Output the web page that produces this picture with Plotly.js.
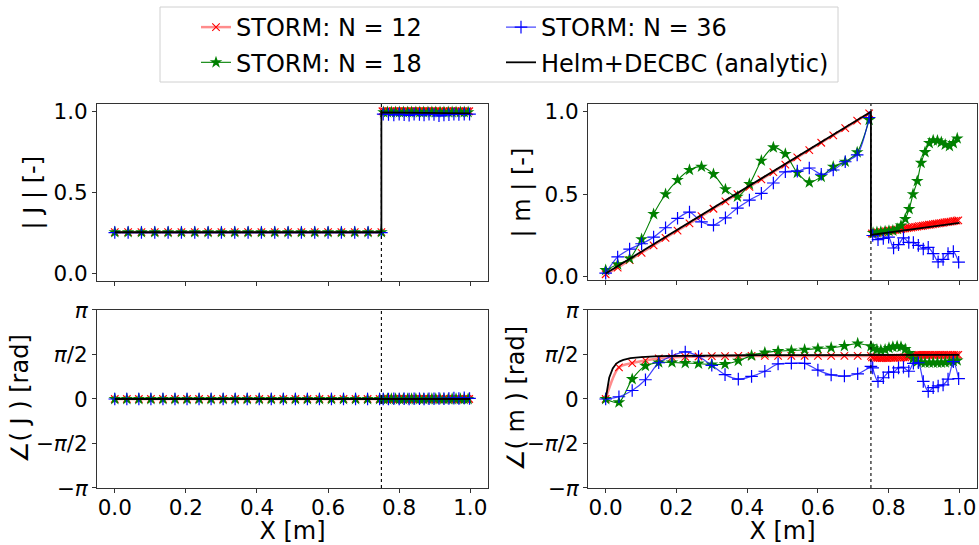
<!DOCTYPE html>
<html><head><meta charset="utf-8">
<script src="https://cdn.plot.ly/plotly-3.0.1.min.js"></script>
<style>html,body{margin:0;padding:0;background:#fff}#plot{width:979px;height:545px}</style>
</head><body><div id="plot"></div>
<script>
// ---------- x grids ----------
const xGridA = [0, 0.0375, 0.075, 0.1125, 0.15, 0.1875, 0.225, 0.2625, 0.3, 0.3375, 0.375, 0.4125, 0.45, 0.4875, 0.525, 0.5625, 0.6, 0.6375, 0.675, 0.7125, 0.75];
const xGridB = [0, 0.0339, 0.0677, 0.1016, 0.1355, 0.1693, 0.2032, 0.2370, 0.2709, 0.3048, 0.3386, 0.3725, 0.4064, 0.4402, 0.4741, 0.5080, 0.5418, 0.5757, 0.6095, 0.6434, 0.6773, 0.7111, 0.745];
const xRight12 = [0.753, 0.758, 0.764, 0.769, 0.775, 0.781, 0.786, 0.792, 0.797, 0.803, 0.808, 0.814, 0.819, 0.825, 0.831, 0.836, 0.842, 0.847, 0.853, 0.858, 0.864, 0.869, 0.875, 0.881, 0.886, 0.892, 0.897, 0.903, 0.908, 0.914, 0.919, 0.925, 0.931, 0.936, 0.942, 0.947, 0.953, 0.958, 0.964, 0.969, 0.975, 0.981, 0.986, 0.992, 0.997];
const xRight18 = [0.756, 0.767, 0.778, 0.790, 0.801, 0.812, 0.824, 0.835, 0.847, 0.858, 0.869, 0.881, 0.892, 0.903, 0.915, 0.926, 0.938, 0.949, 0.960, 0.972, 0.983, 0.994];
const xRight36 = [0.755, 0.770, 0.785, 0.800, 0.814, 0.828, 0.842, 0.857, 0.870, 0.884, 0.898, 0.912, 0.926, 0.940, 0.954, 0.968, 0.983, 0.998];

// ---------- |J| (top-left) ----------
const absJ12Left = [0.254, 0.254, 0.254, 0.254, 0.254, 0.254, 0.254, 0.254, 0.254, 0.254, 0.254, 0.254, 0.254, 0.254, 0.254, 0.254, 0.254, 0.254, 0.254, 0.254, 0.254];
const absJ12Right = [1.003, 1.003, 1.003, 1.003, 1.003, 1.003, 1.003, 1.003, 1.003, 1.003, 1.003, 1.003, 1.003, 1.003, 1.003, 1.003, 1.003, 1.003, 1.003, 1.003, 1.003, 1.003, 1.003, 1.003, 1.003, 1.003, 1.003, 1.003, 1.003, 1.003, 1.003, 1.003, 1.003, 1.003, 1.003, 1.003, 1.003, 1.003, 1.003, 1.003, 1.003, 1.003, 1.003, 1.003, 1.003];
const absJ18Left = [0.254, 0.254, 0.254, 0.254, 0.254, 0.254, 0.254, 0.254, 0.254, 0.254, 0.254, 0.254, 0.254, 0.254, 0.254, 0.254, 0.254, 0.254, 0.254, 0.254, 0.254];
const absJ18Right = [0.997, 0.997, 0.997, 0.997, 0.997, 0.997, 0.997, 0.997, 0.997, 0.997, 0.997, 0.997, 0.997, 0.997, 0.997, 0.997, 0.997, 0.997, 0.997, 0.997, 0.997, 0.997];
const absJ36Left = [0.252, 0.252, 0.252, 0.252, 0.252, 0.252, 0.252, 0.252, 0.252, 0.252, 0.252, 0.252, 0.252, 0.252, 0.252, 0.252, 0.252, 0.252, 0.252, 0.252, 0.252];
const absJ36Right = [0.985, 0.983, 0.980, 0.985, 0.982, 0.978, 0.985, 0.983, 0.980, 0.985, 0.983, 0.975, 0.980, 0.982, 0.985, 0.983, 0.985, 0.985];
const xAbsJExact = [0, 0.75, 0.75, 1.0];
const absJExact = [0.254, 0.254, 0.996, 0.990];

// ---------- |m| (top-right) ----------
const absM12Left = [0.015, 0.055, 0.100, 0.145, 0.190, 0.235, 0.280, 0.323, 0.367, 0.412, 0.457, 0.500, 0.545, 0.590, 0.634, 0.679, 0.723, 0.768, 0.812, 0.857, 0.901, 0.946, 0.990];
const absM12Right = [0.262, 0.264, 0.266, 0.268, 0.269, 0.271, 0.273, 0.275, 0.277, 0.279, 0.280, 0.282, 0.284, 0.286, 0.288, 0.289, 0.291, 0.293, 0.295, 0.297, 0.298, 0.300, 0.302, 0.304, 0.306, 0.307, 0.309, 0.311, 0.313, 0.315, 0.316, 0.318, 0.320, 0.322, 0.324, 0.325, 0.327, 0.329, 0.331, 0.333, 0.334, 0.336, 0.338, 0.340, 0.342];
const absM18Left = [0.040, 0.075, 0.110, 0.227, 0.380, 0.500, 0.586, 0.647, 0.667, 0.622, 0.530, 0.485, 0.562, 0.703, 0.784, 0.744, 0.630, 0.572, 0.606, 0.667, 0.697, 0.754, 0.950];
const absM18Right = [0.265, 0.270, 0.272, 0.275, 0.278, 0.280, 0.290, 0.310, 0.350, 0.410, 0.500, 0.580, 0.690, 0.755, 0.810, 0.827, 0.825, 0.815, 0.800, 0.792, 0.810, 0.838];
const absM36Left = [0.022, 0.120, 0.167, 0.200, 0.240, 0.297, 0.354, 0.392, 0.333, 0.313, 0.357, 0.416, 0.464, 0.505, 0.568, 0.636, 0.640, 0.659, 0.621, 0.647, 0.697, 0.738, 0.965];
const absM36Right = [0.250, 0.225, 0.232, 0.240, 0.174, 0.194, 0.236, 0.208, 0.207, 0.190, 0.168, 0.178, 0.140, 0.090, 0.105, 0.140, 0.153, 0.088];
const xAbsMExact = [0, 0.75, 0.75, 1.0];
const absMExact = [0.020, 1.000, 0.253, 0.327];

// ---------- angle J (bottom-left) ----------
const argJ12Left = [0, 0, 0, 0, 0, 0, 0, 0, 0, 0, 0, 0, 0, 0, 0, 0, 0, 0, 0, 0, 0, 0, 0];
const argJ12Right = [0, 0, 0, 0, 0, 0, 0, 0, 0, 0, 0, 0, 0, 0, 0, 0, 0, 0, 0, 0, 0, 0, 0, 0, 0, 0, 0, 0, 0, 0, 0, 0, 0, 0, 0, 0, 0, 0, 0, 0, 0, 0, 0, 0, 0];
const argJ18Left = [0, 0, 0, 0, 0, 0, 0, 0, 0, 0, 0, 0, 0, 0, 0, 0, 0, 0, 0, 0, 0, 0, 0];
const argJ18Right = [0, 0, 0, 0, 0, 0, 0, 0, 0, 0, 0, 0, 0, 0, 0, 0, 0, 0, 0, 0, 0, 0];
const argJ36Left = [0, 0, 0, 0, 0, 0, 0, 0, 0, 0, 0, 0, 0, 0, 0, 0, 0, 0, 0, 0, 0, 0, 0];
const argJ36Right = [0, 0, 0.01, 0, 0.01, 0, 0.01, 0.01, 0, 0.01, 0.01, 0.02, 0.01, 0.02, 0.03, 0.02, 0.04, 0.02];
const xArgJExact = [0, 1.0];
const argJExact = [0, 0];

// ---------- angle m (bottom-right) ----------
const argM12Left = [0, 1.12, 1.27, 1.36, 1.43, 1.47, 1.49, 1.50, 1.51, 1.51, 1.52, 1.52, 1.52, 1.52, 1.52, 1.52, 1.52, 1.52, 1.52, 1.52, 1.52];
const argM12Right = [1.47, 1.46, 1.45, 1.45, 1.44, 1.44, 1.44, 1.44, 1.44, 1.45, 1.45, 1.45, 1.45, 1.46, 1.46, 1.46, 1.47, 1.47, 1.48, 1.49, 1.52, 1.54, 1.55, 1.56, 1.56, 1.56, 1.56, 1.56, 1.56, 1.56, 1.56, 1.56, 1.56, 1.56, 1.56, 1.56, 1.56, 1.56, 1.56, 1.56, 1.56, 1.56, 1.56, 1.56, 1.56];
const argM18Left = [0, -0.12, 0.70, 1.17, 1.29, 1.29, 1.27, 1.25, 1.22, 1.23, 1.35, 1.53, 1.64, 1.69, 1.71, 1.74, 1.78, 1.81, 1.87, 1.96, 1.86];
const argM18Right = [1.78, 1.74, 1.72, 1.74, 1.80, 1.84, 1.86, 1.84, 1.76, 1.62, 1.42, 1.32, 1.29, 1.28, 1.28, 1.28, 1.28, 1.28, 1.29, 1.31, 1.34, 1.36];
const argM36Left = [0, 0.08, 0.30, 0.68, 1.28, 1.52, 1.66, 1.50, 1.19, 0.86, 0.70, 0.80, 0.98, 1.24, 1.26, 1.26, 1.02, 0.85, 0.81, 0.89, 1.15];
const argM36Right = [1.10, 0.62, 0.75, 0.95, 0.95, 1.10, 1.12, 0.98, 1.26, 1.28, 0.62, 0.27, 0.40, 0.46, 0.50, 0.70, 1.32, 0.72];
const xArgMExact = [0, 0.005, 0.01, 0.02, 0.03, 0.04, 0.05, 0.07, 0.1, 0.15, 0.2, 0.3, 0.4, 0.5, 0.75, 1.0];
const argMExact = [0, 0.45, 0.75, 1.08, 1.25, 1.33, 1.38, 1.44, 1.48, 1.51, 1.52, 1.535, 1.545, 1.55, 1.555, 1.555];

// ---------- labels ----------
const seriesNames = ['STORM: N = 12', 'STORM: N = 18', 'STORM: N = 36', 'Helm+DECBC (analytic)'];
const yTitles = ['| J | [-]', '| m | [-]', '\u2220( J ) [rad]', '\u2220( m ) [rad]'];
const xTitle = 'X [m]';
const xTickVals = [0, 0.2, 0.4, 0.6, 0.8, 1.0];
const yAbsTickVals = [0, 0.5, 1.0];
const yArgTickVals = [-Math.PI, -Math.PI / 2, 0, Math.PI / 2, Math.PI];
const yArgTickText = ['\u2212<i>\u03c0</i>', '\u2212<i>\u03c0</i>/2', '0', '<i>\u03c0</i>/2', '<i>\u03c0</i>'];

// ---------- styles ----------
const styles = [
  {line: {color: 'rgba(255,0,0,0.45)', width: 2.5, shape: 'spline', smoothing: 0.8},
   marker: {symbol: 'x-thin-open', size: 7.5, color: 'red', line: {width: 1.1}}, legend: 'legend'},
  {line: {color: 'green', width: 1.1, shape: 'spline', smoothing: 0.8},
   marker: {symbol: 'star', size: 9.5, color: 'green', line: {width: 0}}, legend: 'legend'},
  {line: {color: 'rgba(0,0,255,0.75)', width: 1.2, shape: 'spline', smoothing: 0.8},
   marker: {symbol: 'cross-thin-open', size: 9, color: 'blue', line: {width: 1.2}}, legend: 'legend2'},
  {line: {color: 'black', width: 1.8}, legend: 'legend2'}
];

function joinSeg(xl, yl, xr, yr) {
  return {x: xl.concat([null], xr), y: yl.concat([null], yr)};
}

const panels = [
  {xa: 'x', ya: 'y', data: [
    joinSeg(xGridA, absJ12Left, xRight12, absJ12Right),
    joinSeg(xGridA, absJ18Left, xRight18, absJ18Right),
    joinSeg(xGridA, absJ36Left, xRight36, absJ36Right),
    {x: xAbsJExact, y: absJExact}]},
  {xa: 'x2', ya: 'y2', data: [
    joinSeg(xGridB, absM12Left, xRight12, absM12Right),
    joinSeg(xGridB, absM18Left, xRight18, absM18Right),
    joinSeg(xGridB, absM36Left, xRight36, absM36Right),
    {x: xAbsMExact, y: absMExact}]},
  {xa: 'x3', ya: 'y3', data: [
    joinSeg(xGridB, argJ12Left, xRight12, argJ12Right),
    joinSeg(xGridB, argJ18Left, xRight18, argJ18Right),
    joinSeg(xGridB, argJ36Left, xRight36, argJ36Right),
    {x: xArgJExact, y: argJExact}]},
  {xa: 'x4', ya: 'y4', data: [
    joinSeg(xGridA, argM12Left, xRight12, argM12Right),
    joinSeg(xGridA, argM18Left, xRight18, argM18Right),
    joinSeg(xGridA, argM36Left, xRight36, argM36Right),
    {x: xArgMExact, y: argMExact}]}
];

const traces = [];
panels.forEach((p, pi) => {
  p.data.forEach((d, si) => {
    const st = styles[si];
    const t = {
      type: 'scatter', x: d.x, y: d.y, xaxis: p.xa, yaxis: p.ya,
      name: seriesNames[si], legendgroup: 's' + si, legend: st.legend,
      showlegend: pi === 0, connectgaps: false, hoverinfo: 'skip',
      mode: st.marker ? 'lines+markers' : 'lines', line: st.line
    };
    if (st.marker) t.marker = st.marker;
    traces.push(t);
  });
});

const tickFont = {family: 'DejaVu Sans', size: 21.5, color: 'black'};
const titleFont = {family: 'DejaVu Sans', size: 24, color: 'black'};
function xAxis(domain, anchor, showLabels) {
  const a = {domain: domain, anchor: anchor, range: [-0.05, 1.05], tickvals: xTickVals, tickformat: '.1f',
    showticklabels: showLabels, ticks: 'outside', ticklen: 4, tickwidth: 1, tickcolor: '#333',
    ticklabelstandoff: -4,
    showline: true, linecolor: '#333', linewidth: 1, mirror: true, showgrid: false, zeroline: false,
    tickfont: tickFont};
  if (showLabels) a.title = {text: xTitle, font: titleFont, standoff: 6};
  return a;
}
function yAxis(domain, anchor, range, tv, tt) {
  const a = {domain: domain, anchor: anchor, range: range, tickvals: tv,
    ticks: 'outside', ticklen: 4, tickwidth: 1, tickcolor: '#333',
    showline: true, linecolor: '#333', linewidth: 1, mirror: true, showgrid: false, zeroline: false,
    tickfont: tickFont};
  if (tt) a.ticktext = tt; else a.tickformat = '.1f';
  return a;
}

const legendCommon = {
  xanchor: 'left', yanchor: 'top', y: 0.9908,
  bgcolor: 'rgba(0,0,0,0)', borderwidth: 0,
  font: {family: 'DejaVu Sans', size: 24, color: 'black'},
  traceorder: 'grouped', tracegroupgap: 1, orientation: 'v'
};

// y-axis titles placed as rotated labels beside each panel
const yTitlePos = [[32, 192.5], [521, 192.5], [20, 399], [516, 399]];
const annotations = yTitles.map((t, i) => ({
  text: t, xref: 'paper', yref: 'paper', x: yTitlePos[i][0] / 979, y: 1 - yTitlePos[i][1] / 545,
  xanchor: 'center', yanchor: 'middle', textangle: -90, showarrow: false, font: titleFont
}));

const domL = [0.0991, 0.4985], domR = [0.6006, 0.998];
const layout = {
  width: 979, height: 545,
  margin: {l: 0, r: 0, t: 0, b: 0},
  paper_bgcolor: 'white', plot_bgcolor: 'white',
  font: {family: 'DejaVu Sans', color: 'black'},
  showlegend: true,
  legend: Object.assign({x: 196 / 979}, legendCommon),
  legend2: Object.assign({x: 501 / 979}, legendCommon),
  xaxis: xAxis(domL, 'y', false),
  xaxis2: xAxis(domR, 'y2', false),
  xaxis3: xAxis(domL, 'y3', true),
  xaxis4: xAxis(domR, 'y4', true),
  yaxis: yAxis([0.4844, 0.8092], 'x', [-0.048, 1.048], yAbsTickVals, null),
  yaxis2: yAxis([0.4862, 0.8092], 'x2', [-0.02, 1.047], yAbsTickVals, null),
  yaxis3: yAxis([0.1046, 0.4312], 'x3', [-Math.PI, Math.PI], yArgTickVals, yArgTickText),
  yaxis4: yAxis([0.1046, 0.4312], 'x4', [-Math.PI, Math.PI], yArgTickVals, yArgTickText),
  annotations: annotations,
  shapes: ['x', 'x2', 'x3', 'x4'].map((xa, i) => ({
    type: 'line', xref: xa, yref: (i === 0 ? 'y' : 'y' + (i + 1)) + ' domain',
    x0: 0.75, x1: 0.75, y0: 0, y1: 1, line: {color: 'black', width: 1.1, dash: 'dot'}
  })).concat([{
    type: 'rect', xref: 'paper', yref: 'paper',
    x0: 160 / 979, x1: 838 / 979, y0: 1 - 82 / 545, y1: 1 - 7 / 545,
    line: {color: '#d0d0d0', width: 1}, fillcolor: 'rgba(0,0,0,0)'
  }])
};

Plotly.newPlot('plot', traces, layout, {displayModeBar: false, staticPlot: true});
</script>
</body></html>
